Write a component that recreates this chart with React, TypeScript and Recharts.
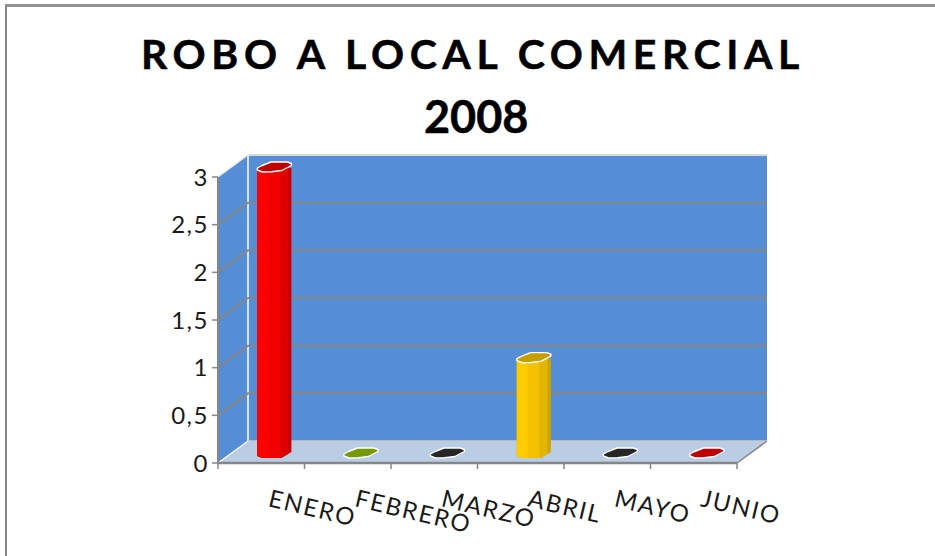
import React from "react";
import { BarChart, Bar, XAxis, YAxis, ReferenceArea, ReferenceLine } from "recharts";

const categories = ["ENERO", "FEBRERO", "MARZO", "ABRIL", "MAYO", "JUNIO"];
const values = [3, 0, 0, 1, 0, 0];
const topColors = ["#c00000", "#769900", "#262626", "#c79e00", "#262626", "#c00000"];
const frontColors = ["#ff0000", "#769900", "#262626", "#ffcc00", "#262626", "#c00000"];
const midColors = ["#f00000", "#769900", "#262626", "#f2c200", "#262626", "#c00000"];
const sideColors = ["#e00000", "#769900", "#262626", "#e2b500", "#262626", "#c00000"];
const edgeColors = ["#c80000", "#769900", "#262626", "#cfa400", "#262626", "#c00000"];
const yTicks = [0, 0.5, 1, 1.5, 2, 2.5, 3];
const titleLine1 = "ROBO A LOCAL COMERCIAL";
const titleLine2 = "2008";

const DX = 30;
const DY = -22;
const BAR_DX = 13;
const BAR_DY = -5;
const FONT = "Lato, 'Open Sans', sans-serif";
const table = categories.map((c, i) => ({ name: c, value: values[i], idx: i }));

const Walls = (p: any) => {
  const { x, y, width, height } = p;
  const b = y + height;
  const r = x + width;
  return (
    <g>
      <polygon points={`${x},${y} ${x + DX},${y + DY} ${r + DX},${y + DY} ${r + DX},${b + DY} ${x + DX},${b + DY} ${x},${b}`} fill="#558ed5" />
      <polygon points={`${x},${b} ${x + DX},${b + DY} ${r + DX},${b + DY} ${r},${b}`} fill="#b9cde5" />
      <line x1={x + DX} y1={y + DY} x2={r + DX} y2={y + DY} stroke="#d9d9d9" strokeWidth={2} />
      <line x1={x + DX} y1={y + DY} x2={x + DX} y2={b + DY} stroke="#ffffff" strokeWidth={1.5} />
      <line x1={x} y1={y} x2={x + DX} y2={y + DY} stroke="#e6e6e6" strokeWidth={1.2} />
      <line x1={x} y1={b} x2={x + DX} y2={b + DY} stroke="#ffffff" strokeWidth={1.2} />
      <line x1={x + DX} y1={b + DY} x2={r + DX} y2={b + DY} stroke="#c8c8c8" strokeWidth={1.5} />
      <line x1={r} y1={b} x2={r + DX} y2={b + DY} stroke="#868686" strokeWidth={1.5} />
    </g>
  );
};

const GridShape = (p: any) => {
  const { x1, y1, x2 } = p;
  return (
    <polyline
      points={`${x1},${y1} ${x1 + DX},${y1 + DY} ${x2 + DX},${y1 + DY}`}
      fill="none"
      stroke="#868686"
      strokeWidth={2}
    />
  );
};

const Column = (p: any) => {
  const { x, y, width, height, payload } = p;
  const i = payload.idx;
  const w = width;
  const l = x + BAR_DX;
  const bot = y + height + BAR_DY;
  const top = y + BAR_DY;
  const fx = (f: number) => l + w * f;
  const outline = [
    [0, -4], [0.14, -6.5], [0.4, -10], [0.88, -10], [1, -8.5], [1, -6.5], [0.72, -1.5], [0.42, -0.2], [0.15, 0], [0, -2],
  ];
  const topPts = outline.map(([a, b]) => `${fx(a)},${top + b}`).join(" ");
  if (height < 1) {
    return <polygon points={topPts} fill={topColors[i]} stroke="#ffffff" strokeWidth={1.4} strokeLinejoin="round" />;
  }
  const rise = (f: number) => (f > 0.7 ? (f - 0.7) * 20 : 0);
  const strip = (c: number, fill: string) => {
    const bottom = c > 0.7
      ? `${fx(c)},${bot - rise(c)} ${fx(0.7)},${bot}`
      : `${fx(c)},${bot}`;
    return (
      <polygon
        points={`${fx(0)},${top - 4} ${fx(c)},${top - 4} ${bottom} ${fx(0.14)},${bot} ${fx(0)},${bot - 2}`}
        fill={fill}
      />
    );
  };
  return (
    <g>
      {strip(1, edgeColors[i])}
      {strip(0.9, sideColors[i])}
      {strip(0.66, midColors[i])}
      {strip(0.32, frontColors[i])}
      <polygon points={topPts} fill={topColors[i]} stroke="#ffffff" strokeWidth={1.4} strokeLinejoin="round" />
    </g>
  );
};

const CatTick = (p: any) => {
  const { x, y, payload, index } = p;
  const band = 519 / categories.length;
  const axisY = y - 6;
  return (
    <g>
      <line x1={x - band / 2} y1={axisY} x2={x - band / 2} y2={axisY + 6} stroke="#868686" strokeWidth={1.5} />
      {index === categories.length - 1 && (
        <line x1={x + band / 2} y1={axisY} x2={x + band / 2} y2={axisY + 6} stroke="#868686" strokeWidth={1.5} />
      )}
      <text
        transform={`translate(${x + 6},${axisY + 43}) rotate(13.3)`}
        textAnchor="start"
        fontFamily={FONT}
        fontSize={24}
        letterSpacing={1.8}
        fill="#1a1a1a"
      >
        {payload.value}
      </text>
    </g>
  );
};

export default function App() {
  return (
    <div style={{ position: "absolute", left: 0, top: 0, width: 935, height: 556, background: "#fff", overflow: "hidden" }}>
      <div style={{ position: "absolute", left: 5, top: 4, width: 960, height: 600, borderLeft: "2px solid #868686", borderTop: "3px solid #929292", boxSizing: "border-box" }} />
      <div style={{ position: "absolute", left: 141, top: 24, fontFamily: FONT, fontWeight: 700, fontSize: 41, lineHeight: "60px", color: "#000", letterSpacing: 5.6, whiteSpace: "pre", WebkitTextStroke: "0.5px #000" }}>
        {titleLine1}
      </div>
      <div style={{ position: "absolute", left: 424, top: 86, fontFamily: FONT, fontWeight: 700, fontSize: 45, lineHeight: "60px", color: "#000", whiteSpace: "pre", WebkitTextStroke: "0.5px #000" }}>
        {titleLine2}
      </div>
      <BarChart
        width={935}
        height={556}
        data={table}
        margin={{ top: 177, right: 198, bottom: 0, left: 0 }}
        barCategoryGap="30.5%"
        style={{ position: "absolute", left: 0, top: 0 }}
      >
        <XAxis
          dataKey="name"
          interval={0}
          height={93}
          tick={<CatTick />}
          tickLine={false}
          axisLine={{ stroke: "#868686", strokeWidth: 2.5 }}
          tickSize={6}
          tickMargin={0}
        />
        <YAxis
          domain={[0, 3]}
          ticks={yTicks}
          width={218}
          tickFormatter={(v: number) => String(v).replace(".", ",")}
          tick={{ fontFamily: FONT, fontSize: 24, fill: "#1a1a1a", letterSpacing: 1.5 }}
          tickLine={{ stroke: "#868686", strokeWidth: 1.5 }}
          axisLine={{ stroke: "#868686", strokeWidth: 2 }}
          tickSize={6}
          tickMargin={3}
        />
        <ReferenceArea y1={0} y2={3} shape={<Walls />} ifOverflow="visible" zIndex={100} />
        {yTicks.slice(1, -1).map((t) => (
          <ReferenceLine key={t} y={t} shape={<GridShape />} ifOverflow="visible" zIndex={150} />
        ))}
        <Bar dataKey="value" isAnimationActive={false} shape={<Column />} />
      </BarChart>
    </div>
  );
}
